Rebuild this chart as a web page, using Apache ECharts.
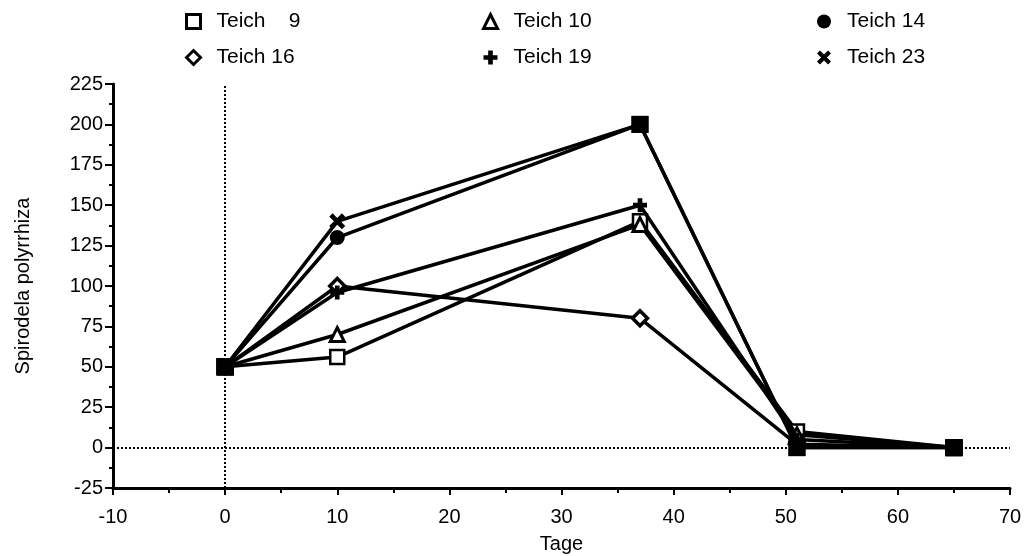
<!DOCTYPE html>
<html>
<head>
<meta charset="utf-8">
<script src="https://cdn.jsdelivr.net/npm/echarts@6/dist/echarts.min.js"></script>
<style>html,body{margin:0;padding:0;background:#fff}#c{width:1029px;height:556px}</style>
</head>
<body>
<div id="c"></div>
<script>
// Days (x values)
const days = [0, 10, 37, 51, 65];
// Series values (Spirodela polyrrhiza)
const teich9  = [50, 56, 140, 10, 0];
const teich10 = [50, 70, 138, 8, 0];
const teich14 = [50, 130, 200, 0, 0];
const teich16 = [50, 100, 80, 2, 0];
const teich19 = [50, 96, 150, 5, 0];
const teich23 = [50, 140, 200, 0, 0];
const seriesNames = ['Teich 9', 'Teich 10', 'Teich 14', 'Teich 16', 'Teich 19', 'Teich 23'];
const seriesValues = [teich9, teich10, teich14, teich16, teich19, teich23];
const xTicks = [-10, 0, 10, 20, 30, 40, 50, 60, 70];
const yTicks = [-25, 0, 25, 50, 75, 100, 125, 150, 175, 200, 225];

const PLUS = 'path://M4,0H8V4H12V8H8V12H4V8H0V4H4Z';
const XMARK = 'path://M0,2.5L2.5,0L6,3.5L9.5,0L12,2.5L8.5,6L12,9.5L9.5,12L6,8.5L2.5,12L0,9.5L3.5,6Z';
const styles = [
  {symbol: 'rect', size: 14, fill: '#fff', bw: 2.5},
  {symbol: 'triangle', size: 14, fill: '#fff', bw: 3},
  {symbol: 'circle', size: 15, fill: '#000', bw: 0},
  {symbol: 'diamond', size: 15, fill: '#fff', bw: 3.5},
  {symbol: PLUS, size: 14, fill: '#000', bw: 0},
  {symbol: XMARK, size: 16, fill: '#000', bw: 0}
];

function shared(si, i) {
  for (let k = 0; k < seriesValues.length; k++) {
    if (k !== si && seriesValues[k][i] === seriesValues[si][i]) return true;
  }
  return false;
}

const font = 'Liberation Sans, Arial, sans-serif';
const series = seriesValues.map((vals, si) => {
  const st = styles[si];
  const s = {
    name: seriesNames[si],
    type: 'line',
    symbol: st.symbol,
    symbolSize: st.size,
    showAllSymbol: true,
    z: 2 + si,
    lineStyle: {color: '#000', width: 3.5},
    itemStyle: {color: st.fill, borderColor: '#000', borderWidth: st.bw},
    emphasis: {disabled: true},
    data: days.map((d, i) => {
      const item = {value: [d, vals[i]]};
      if (shared(si, i)) {
        item.symbol = 'rect';
        item.symbolSize = 17;
        item.itemStyle = {color: '#000', borderColor: '#000', borderWidth: 0};
      }
      return item;
    })
  };
  if (si === 0) {
    s.markLine = {
      silent: true,
      symbol: 'none',
      label: {show: false},
      lineStyle: {color: '#000', type: [2, 2], width: 2},
      data: [{xAxis: 0}, {yAxis: 0}]
    };
  }
  return s;
});

function legend(left, idxs) {
  return {
    orient: 'vertical',
    left: left,
    top: 6,
    itemGap: 15,
    itemWidth: 14,
    itemHeight: 14,
    data: idxs.map(i => ({
      name: seriesNames[i],
      icon: styles[i].symbol,
      itemStyle: {color: styles[i].fill, borderColor: '#000', borderWidth: styles[i].bw ? 3 : 0}
    })),
    formatter: n => n === 'Teich 9' ? 'Teich    9' : n,
    textStyle: {fontFamily: font, fontSize: 21, color: '#000', padding: [0, 0, 0, 11]},
    selectedMode: false
  };
}

const chart = echarts.init(document.getElementById('c'), null, {renderer: 'canvas'});
chart.setOption({
  animation: false,
  backgroundColor: '#fff',
  legend: [
    legend(180, [0, 3]),
    legend(477, [1, 4]),
    legend(812, [2, 5])
  ],
  grid: {left: 113, right: 19, top: 84, bottom: 68, containLabel: false, outerBoundsMode: 'none'},
  xAxis: {
    type: 'value', min: -10, max: 70, interval: 10,
    name: 'Tage', nameLocation: 'middle', nameGap: 46,
    nameTextStyle: {fontFamily: font, fontSize: 20, color: '#000'},
    axisLine: {onZero: false, lineStyle: {color: '#000', width: 3}},
    axisTick: {show: true, length: 7, lineStyle: {color: '#000', width: 2}},
    minorTick: {show: true, splitNumber: 2, length: 5, lineStyle: {color: '#000', width: 2}},
    axisLabel: {fontFamily: font, fontSize: 20, color: '#000', margin: 19,
      formatter: v => xTicks.includes(v) ? String(v) : ''},
    splitLine: {show: false}
  },
  yAxis: {
    type: 'value', min: -25, max: 225, interval: 25,
    name: 'Spirodela polyrrhiza', nameLocation: 'middle', nameGap: 80, nameRotate: 90,
    nameTextStyle: {fontFamily: font, fontSize: 20, color: '#000'},
    axisLine: {onZero: false, lineStyle: {color: '#000', width: 3}},
    axisTick: {show: true, length: 8, lineStyle: {color: '#000', width: 2}},
    minorTick: {show: true, splitNumber: 2, length: 4, lineStyle: {color: '#000', width: 2}},
    axisLabel: {fontFamily: font, fontSize: 20, color: '#000', margin: 10,
      formatter: v => yTicks.includes(v) ? String(v) : ''},
    splitLine: {show: false}
  },
  series: series
});
</script>
</body>
</html>
